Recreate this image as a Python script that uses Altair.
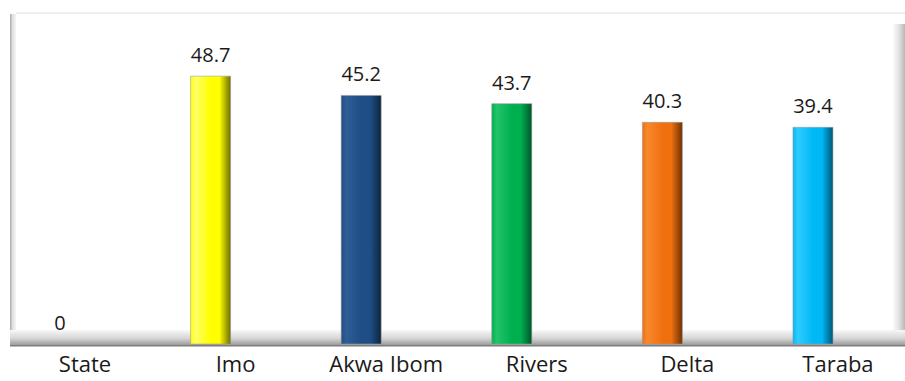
import altair as alt
import pandas as pd

# Mean values by state
states = ["State", "Imo", "Akwa Ibom", "Rivers", "Delta", "Taraba"]
values = [0, 48.7, 45.2, 43.7, 40.3, 39.4]
bar_colors = ["#FFFFFF", "#FFFF00", "#1F4E86", "#00B050", "#F07010", "#00B8F5"]
edge_colors = ["#FFFFFF", "#6E6E00", "#0E2540", "#00552A", "#6E3205", "#005878"]
light_colors = ["#FFFFFF", "#FFFF66", "#2F5E96", "#22C468", "#F8882C", "#30CCFF"]

df = pd.DataFrame({"state": states, "value": values})

FONT = "Open Sans"

x_scale = alt.Scale(domain=states, paddingInner=0.7344, paddingOuter=0.372, align=0.357)
y_scale = alt.Scale(domain=[0, 60])


def decor():
    return alt.Chart(alt.Data(values=[{}]))


# Chart frame: top edge, left wall, floor and right wall
top_edge = decor().mark_rule(color="#e8e8e8", strokeWidth=1.5).encode(
    x=alt.value(16), x2=alt.value(905), y=alt.value(-1)
)
left_wall = decor().mark_rect(
    color=alt.Gradient(
        gradient="linear", x1=0, x2=1, y1=0, y2=0,
        stops=[alt.GradientStop(color="#a8a8a8", offset=0),
               alt.GradientStop(color="#dedede", offset=0.4),
               alt.GradientStop(color="#f6f6f6", offset=1)],
    )
).encode(x=alt.value(10), x2=alt.value(16), y=alt.value(0), y2=alt.value(332))
floor = decor().mark_rect(
    color=alt.Gradient(
        gradient="linear", x1=0, x2=0, y1=0, y2=1,
        stops=[alt.GradientStop(color="#f8f8f8", offset=0),
               alt.GradientStop(color="#d6d6d6", offset=0.55),
               alt.GradientStop(color="#9c9c9c", offset=1)],
    )
).encode(x=alt.value(10), x2=alt.value(905), y=alt.value(316), y2=alt.value(331))
floor_edge = decor().mark_rect(color="#7c7c7c").encode(
    x=alt.value(10), x2=alt.value(905), y=alt.value(331), y2=alt.value(332.5)
)
right_wall = decor().mark_rect(
    color=alt.Gradient(
        gradient="linear", x1=0, x2=1, y1=0, y2=0,
        stops=[alt.GradientStop(color="#fbfbfb", offset=0),
               alt.GradientStop(color="#e2e2e2", offset=0.5),
               alt.GradientStop(color="#b8b8b8", offset=1)],
    )
).encode(x=alt.value(893), x2=alt.value(905), y=alt.value(10), y2=alt.value(316))

layers = [top_edge, left_wall, right_wall, floor, floor_edge]

# One shaded column per state
for i, s in enumerate(states):
    if values[i] <= 0:
        continue
    grad = alt.Gradient(
        gradient="linear", x1=0, x2=1, y1=0, y2=0,
        stops=[alt.GradientStop(color=bar_colors[i], offset=0),
               alt.GradientStop(color=light_colors[i], offset=0.12),
               alt.GradientStop(color=bar_colors[i], offset=0.5),
               alt.GradientStop(color=bar_colors[i], offset=0.72),
               alt.GradientStop(color=edge_colors[i], offset=1)],
    )
    bar = alt.Chart(df).transform_filter(
        alt.datum.state == s
    ).mark_bar(color=grad, stroke="#9a9a9a", strokeWidth=0.8, strokeOpacity=0.7).encode(
        x=alt.X("state:N", scale=x_scale, axis=None, sort=states),
        y=alt.Y("value:Q", scale=y_scale, axis=None),
    )
    layers.append(bar)

# Value above each column
value_labels = alt.Chart(df).mark_text(
    font=FONT, fontSize=20, color="#1a1a1a", baseline="alphabetic", dy=-14
).encode(
    x=alt.X("state:N", scale=x_scale, sort=states, axis=None),
    y=alt.Y("value:Q", scale=y_scale, axis=None),
    text=alt.Text("value:Q", format="~g"),
)
layers.append(value_labels)

# Category names below the floor, shifted by the depth offset
category_labels = alt.Chart(df).mark_text(
    font=FONT, fontSize=22, color="#1a1a1a", baseline="alphabetic", dx=25
).encode(
    x=alt.X("state:N", scale=x_scale, sort=states, axis=None),
    y=alt.value(358),
    text="state:N",
)
layers.append(category_labels)

chart = alt.layer(*layers).properties(
    width=905, height=330,
    padding={"left": 0, "top": 14, "right": 0, "bottom": 37},
    autosize=alt.AutoSizeParams(type="none"),
    background="white",
).configure_view(stroke=None)

chart.save("out.html", embed_options={"renderer": "svg", "actions": False})
